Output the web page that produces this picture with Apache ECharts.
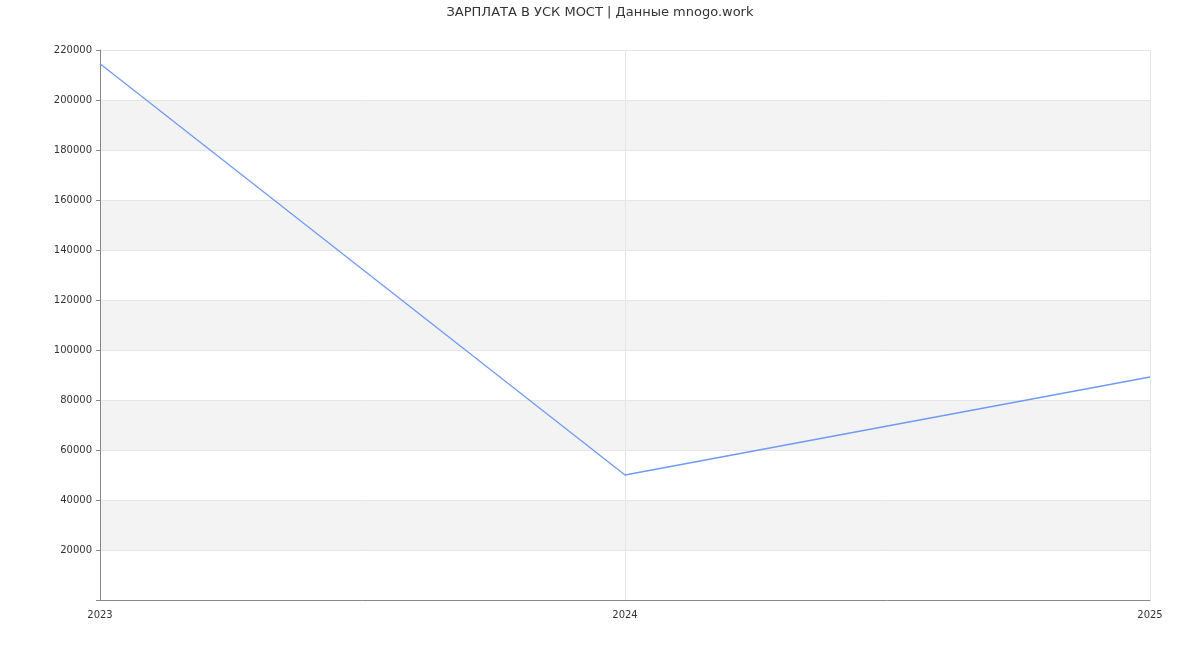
<!DOCTYPE html>
<html>
<head>
<meta charset="utf-8">
<script src="https://cdn.jsdelivr.net/npm/echarts@6/dist/echarts.min.js"></script>
<style>html,body{margin:0;padding:0;background:#fff}#chart{width:1200px;height:650px}</style>
</head>
<body>
<div id="chart"></div>
<script>
// годы и зарплата
const years = ['2023', '2024', '2025']
const salary = [214500, 50000, 89200]

const chart = echarts.init(document.getElementById('chart'))
chart.setOption({
  animation: false,
  title: {
    text: 'ЗАРПЛАТА В УСК МОСТ | Данные mnogo.work',
    left: 'center',
    top: 1,
    textStyle: { fontSize: 13, fontWeight: 'normal', color: '#333', fontFamily: 'DejaVu Sans' }
  },
  grid: { left: 100, right: 50, top: 50, bottom: 50 },
  xAxis: {
    type: 'category',
    data: years,
    boundaryGap: false,
    axisLine: { lineStyle: { color: '#888' } },
    axisTick: { show: false },
    axisLabel: { color: '#333', fontSize: 10, margin: 10, fontFamily: 'DejaVu Sans' },
    splitLine: { show: true, lineStyle: { color: '#e6e6e6' } }
  },
  yAxis: {
    type: 'value',
    min: 0,
    max: 220000,
    interval: 20000,
    axisLine: { show: true, lineStyle: { color: '#888' } },
    axisTick: { show: true, length: 4, lineStyle: { color: '#888' } },
    axisLabel: {
      color: '#333', fontSize: 10, fontFamily: 'DejaVu Sans',
      formatter: v => v === 0 ? '' : v
    },
    splitLine: { lineStyle: { color: '#e6e6e6' } },
    splitArea: { show: true, areaStyle: { color: ['#ffffff', '#f3f3f3'] } }
  },
  series: [{
    type: 'line',
    data: salary,
    symbol: 'none',
    lineStyle: { color: '#6f9af5', width: 1.3 }
  }]
})
</script>
</body>
</html>
